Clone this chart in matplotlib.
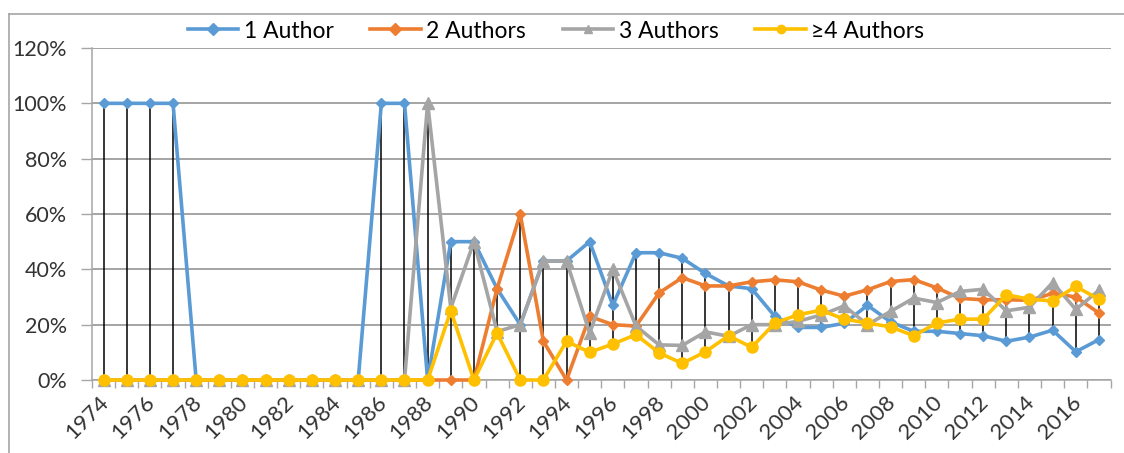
import matplotlib
matplotlib.use("Agg")
import matplotlib.pyplot as plt
from matplotlib.lines import Line2D
import matplotlib.transforms as mtransforms
import numpy as np

years = list(range(1974, 2018))

one_author = [100, 100, 100, 100, 0, 0, 0, 0, 0, 0, 0, 0, 100, 100, 0,
              50, 50, 33, 20, 43, 43, 50, 27, 46, 46, 44, 38.5, 34, 33,
              23, 19, 19, 20.5, 27, 21, 17.6, 17.6, 16.8, 16, 14, 15.5, 18, 10.2, 14.6]
two_authors = [0, 0, 0, 0, 0, 0, 0, 0, 0, 0, 0, 0, 0, 0, 0,
               0, 0, 33, 60, 14, 0, 23, 20, 19.5, 31.5, 37, 34, 34, 35.5,
               36.2, 35.5, 32.5, 30.3, 32.6, 35.6, 36.3, 33.3, 29.5, 29, 29, 28.8, 31.3, 30, 24.2]
three_authors = [0, 0, 0, 0, 0, 0, 0, 0, 0, 0, 0, 0, 0, 0, 100,
                 26, 50, 17.5, 20, 43, 43, 17, 40, 19.5, 12.7, 12.5, 17.4, 15.8, 20,
                 20, 21.2, 23.5, 26.8, 20, 24.8, 29.6, 28, 32, 32.8, 25, 26.3, 35.2, 25.5, 32.4]
four_plus = [0, 0, 0, 0, 0, 0, 0, 0, 0, 0, 0, 0, 0, 0, 0,
             25, 0, 17, 0, 0, 14, 10, 13, 16.4, 9.8, 6, 10.2, 16, 11.8,
             20.6, 23.6, 25.2, 22, 20.6, 19.2, 16, 20.6, 22, 22, 30.8, 29.2, 28.6, 33.8, 29.2]

series_names = ["1 Author", "2 Authors", "3 Authors", "\u22654 Authors"]
colors = ["#5B9BD5", "#ED7D31", "#A5A5A5", "#FFC000"]
markers = ["D", "D", "^", "o"]
msizes = [5.5, 5.5, 8, 8]

plt.rcParams['font.family'] = ['Lato', 'DejaVu Sans']

W, H = 1124, 453
fig = plt.figure(figsize=(W / 100, H / 100), dpi=100)
ax = fig.add_axes([92 / W, (H - 380) / H, (1110.5 - 92) / W, (380 - 48) / H])

x = np.array(years)
data = [one_author, two_authors, three_authors, four_plus]
arr = np.array(data)

# high-low lines
hi = arr.max(axis=0)
lo = arr.min(axis=0)
ax.vlines(x, lo, hi, colors="black", linewidth=1.1, zorder=2)

for vals, c, m, ms, name in zip(data, colors, markers, msizes, series_names):
    ax.plot(x, vals, color=c, marker=m, markersize=ms, linewidth=2.6,
            markeredgecolor=c, label=name, zorder=3, clip_on=False)

ax.set_xlim(1973.5, 2017.5)
ax.set_ylim(0, 120)
ax.set_yticks(np.arange(0, 121, 20))
ax.set_yticklabels([f"{v}%" for v in range(0, 121, 20)], fontsize=15.5, color="#333333")
ax.yaxis.grid(True, color="#8C8C8C", linewidth=1.1)
ax.set_axisbelow(True)

ax.set_xticks(years[::2])
ax.set_xticklabels([str(y) for y in years[::2]], rotation=45, ha="right", va="top",
                   rotation_mode="anchor", fontsize=16, color="#333333")
ax.tick_params(axis="x", length=0, pad=9)
offset = mtransforms.ScaledTranslation(-5 / 100, 0, fig.dpi_scale_trans)
for lbl in ax.get_xticklabels():
    lbl.set_transform(lbl.get_transform() + offset)
ax.set_xticks(np.arange(1973.5, 2018, 1), minor=True)
ax.tick_params(axis="x", which="minor", length=6, color="#A6A6A6", width=1)
ax.tick_params(axis="y", length=8, color="#A6A6A6", width=1, pad=10)

for s in ["top", "right"]:
    ax.spines[s].set_visible(False)
ax.spines["left"].set_color("#A6A6A6")
ax.spines["bottom"].set_color("#A6A6A6")
ax.spines["left"].set_linewidth(1.1)
ax.spines["bottom"].set_linewidth(1.1)

leg = ax.legend(loc="center", bbox_to_anchor=(556 / W, (H - 31) / H),
                bbox_transform=fig.transFigure, ncol=4, frameon=False,
                fontsize=16.5, handlelength=2.2, columnspacing=1.6,
                handletextpad=0.25, borderpad=0, borderaxespad=0)
for h in leg.legend_handles:
    h.set_markersize(6)

# chart border
fig.add_artist(Line2D([9 / W, 1.0], [(H - 13.5) / H] * 2, color="#A6A6A6", linewidth=1.2,
                      transform=fig.transFigure))
fig.add_artist(Line2D([9 / W] * 2, [0, (H - 13.5) / H], color="#A6A6A6", linewidth=1.2,
                      transform=fig.transFigure))

fig.savefig("out.png", dpi=100)
